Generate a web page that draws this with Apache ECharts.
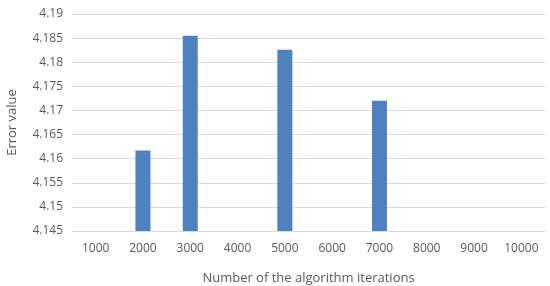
<!DOCTYPE html>
<html><head><meta charset="utf-8">
<script src="https://cdn.jsdelivr.net/npm/echarts@6/dist/echarts.min.js"></script>
<style>html,body{margin:0;padding:0;background:#fff}#c{width:550px;height:286px}</style>
</head><body><div id="c"></div>
<script>
var categories = ['1000','2000','3000','4000','5000','6000','7000','8000','9000','10000'];
var errorValues = [null, 4.1617, 4.1855, null, 4.1826, null, 4.1720, null, null, null];
var yMin = 4.145, yMax = 4.19, yStep = 0.005;
var chart = echarts.init(document.getElementById('c'), null, {renderer:'canvas'});
chart.setOption({
  animation:false,
  grid:{left:72, right:5, top:14, bottom:55, outerBoundsMode:'none', containLabel:false},
  xAxis:{type:'category', data:categories,
    axisLine:{show:false}, axisTick:{show:false},
    axisLabel:{color:'#595959', fontSize:12, fontFamily:'Open Sans', margin:12},
    name:'Number of the algorithm iterations', nameLocation:'middle', nameGap:41,
    nameTextStyle:{color:'#595959', fontSize:13, fontFamily:'Open Sans'}},
  yAxis:{type:'value', min:yMin, max:yMax, interval:yStep,
    axisLine:{show:false}, axisTick:{show:false},
    splitLine:{lineStyle:{color:'#d9d9d9', width:1}},
    axisLabel:{color:'#595959', fontSize:12, fontFamily:'Open Sans', margin:9,
      formatter:function(v){return String(parseFloat(v.toFixed(3)));}},
    name:'Error value', nameLocation:'middle', nameGap:53,
    nameTextStyle:{color:'#595959', fontSize:13, fontFamily:'Open Sans'}},
  series:[{type:'bar', data:errorValues, barWidth:15,
    itemStyle:{color:'#4f81bd'}}]
});
</script></body></html>
